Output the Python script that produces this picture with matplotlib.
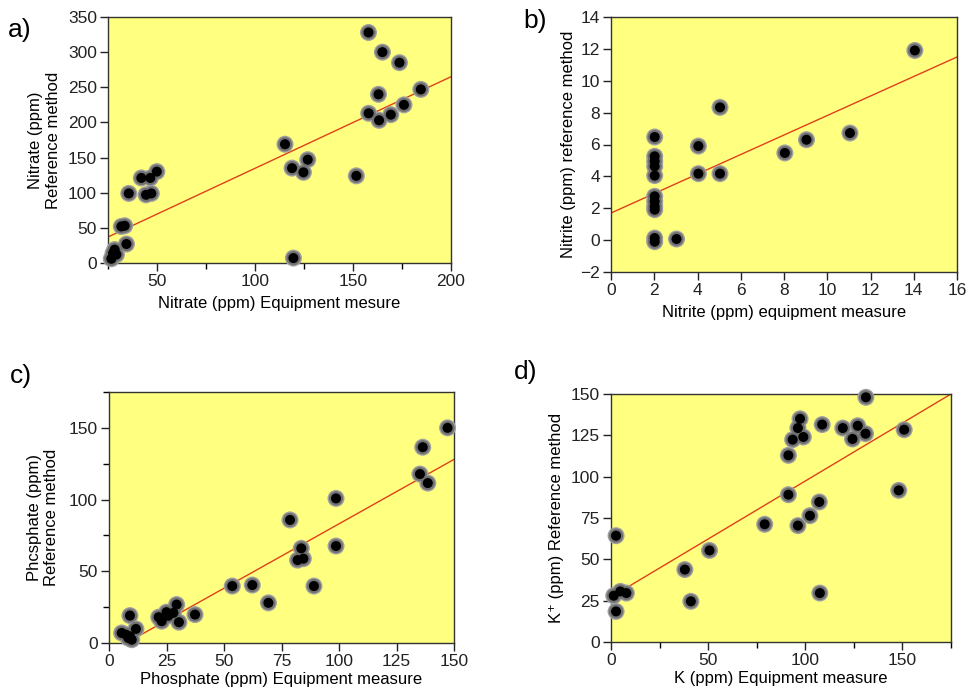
import matplotlib
matplotlib.use("Agg")
import matplotlib.pyplot as plt
import numpy as np
from matplotlib.ticker import MultipleLocator

plt.rcParams['font.family'] = ['Liberation Sans', 'DejaVu Sans']

# ---- Data: a) Nitrate ----
nitrate_x = [157.9, 165.0, 173.7, 184.6, 163.0, 158.0, 163.3, 169.3, 176.0,
             115.3, 118.9, 126.9, 124.7, 151.7, 119.6,
             42.0, 46.6, 49.9, 44.4, 47.1, 35.6, 31.8, 33.5, 34.4,
             28.4, 27.6, 26.7, 29.3]
nitrate_y = [328, 300, 285, 247, 240, 213, 203, 211, 225,
             169, 135, 147, 129, 124, 7,
             121, 121, 130, 97, 99, 99, 52, 53, 27,
             19, 14, 6, 12]
nitrate_line_x = [25, 200]
nitrate_line_y = [37, 265]

# ---- Data: b) Nitrite ----
nitrite_x = [14.05, 5.04, 2.02, 2.02, 2.02, 2.02, 2.02, 2.02, 2.02, 2.02, 2.02,
             2.02, 2.02, 3.03, 4.04, 4.04, 5.04, 8.04, 9.04, 11.05]
nitrite_y = [11.9, 8.33, 6.47, 5.26, 4.95, 4.63, 4.05, 2.75, 2.43, 2.12, 1.91,
             0.13, -0.1, 0.07, 5.9, 4.17, 4.17, 5.47, 6.3, 6.72]
nitrite_line_x = [0, 16]
nitrite_line_y = [1.70, 11.49]

# ---- Data: c) Phosphate ----
phosphate_x = [147.2, 136.4, 135.2, 138.6, 98.7, 98.7, 78.7, 83.6, 82.0, 84.5,
               89.1, 53.6, 62.3, 69.3, 37.4, 29.4, 30.4, 28.0, 25.0, 25.8,
               21.6, 22.9, 9.1, 5.5, 7.4, 9.1, 11.7, 9.9, 8.4]
phosphate_y = [150, 136.5, 117.8, 111.5, 100.8, 67.6, 85.8, 66, 57.8, 58.8,
               39.7, 39.7, 40.4, 28, 19.8, 26.8, 14.5, 21, 21.5, 19,
               18, 15.2, 19.1, 7, 5.8, 4.7, 9.8, 2.3, 3.5]
phosphate_line_x = [7.5, 150]
phosphate_line_y = [0, 128]

# ---- Data: d) Potassium ----
k_x = [131.2, 97.3, 96.2, 93.5, 99.0, 91.3, 108.7, 119.3, 127.0, 124.3, 131.0,
       150.9, 148.1, 91.3, 107.2, 102.4, 96.2, 79.1, 50.7, 38.0, 41.1, 107.5,
       2.6, 2.6, 1.4, 4.8, 7.9]
k_y = [148, 135, 129.4, 122.4, 124, 112.9, 131.5, 129.4, 130.8, 122.8, 126,
       128.4, 91.7, 89.1, 84.7, 76.4, 70.4, 71.2, 55.4, 43.8, 24.6, 29.6,
       64.3, 18.5, 28, 30.6, 29.6]
k_line_x = [0, 175]
k_line_y = [27.2, 150]

W, H = 968, 700
fig = plt.figure(figsize=(W / 100, H / 100), dpi=100)

def ax_px(left, right, top, bottom):
    return fig.add_axes([left / W, 1 - bottom / H, (right - left) / W, (bottom - top) / H])

BG = '#FFFF80'
LINE = '#E0401A'

def style(ax):
    ax.set_facecolor(BG)
    for s in ax.spines.values():
        s.set_color('#333333')
        s.set_linewidth(1.0)
    ax.tick_params(direction='out', length=6, width=1, labelsize=12.5, colors='#222222', pad=2)
    ax.tick_params(which='minor', direction='out', length=4, width=1)

def pts(ax, x, y):
    ax.scatter(x, y, s=150, color='#a0a0a0', edgecolors='none', zorder=3, clip_on=False)
    ax.scatter(x, y, s=105, color='#707070', edgecolors='none', zorder=3, clip_on=False)
    ax.scatter(x, y, s=52, color='black', edgecolors='none', zorder=4, clip_on=False)

lab_fs = 12

# a)
ax = ax_px(108, 451, 17, 263)
style(ax)
ax.plot(nitrate_line_x, nitrate_line_y, color=LINE, lw=1, zorder=2)
pts(ax, nitrate_x, nitrate_y)
ax.set_xlim(25, 200)
ax.set_ylim(0, 350)
ax.set_xticks([50, 100, 150, 200])
ax.xaxis.set_minor_locator(MultipleLocator(25))
ax.set_yticks(np.arange(0, 351, 50))
ax.set_xlabel('Nitrate (ppm) Equipment mesure', fontsize=lab_fs, labelpad=5)
ax.set_ylabel('Nitrate (ppm)\nReference method', fontsize=lab_fs, labelpad=5)
fig.text(8 / W, 1 - 30 / H, 'a)', fontsize=19, va='center', ha='left')

# b)
ax = ax_px(611, 957, 17, 272)
style(ax)
ax.plot(nitrite_line_x, nitrite_line_y, color=LINE, lw=1, zorder=2)
pts(ax, nitrite_x, nitrite_y)
ax.set_xlim(0, 16)
ax.set_ylim(-2, 14)
ax.set_xticks(np.arange(0, 17, 2))
ax.set_yticks(np.arange(-2, 15, 2))
ax.set_xlabel('Nitrite (ppm) equipment measure', fontsize=lab_fs, labelpad=5)
ax.set_ylabel('Nitrite (ppm) reference method', fontsize=lab_fs, labelpad=3)
fig.text(523 / W, 1 - 21 / H, 'b)', fontsize=19, va='center', ha='left')

# c)
ax = ax_px(109, 454, 392, 643)
style(ax)
ax.plot(phosphate_line_x, phosphate_line_y, color=LINE, lw=1, zorder=2)
pts(ax, phosphate_x, phosphate_y)
ax.set_xlim(0, 150)
ax.set_ylim(0, 175)
ax.set_xticks(np.arange(0, 151, 25))
ax.set_yticks([0, 50, 100, 150])
ax.yaxis.set_minor_locator(MultipleLocator(25))
ax.set_xlabel('Phosphate (ppm) Equipment measure', fontsize=lab_fs, labelpad=2)
ax.set_ylabel('Phcsphate (ppm)\nReference method', fontsize=lab_fs, labelpad=7)
fig.text(10 / W, 1 - 376 / H, 'c)', fontsize=19, va='center', ha='left')

# d)
ax = ax_px(611, 951, 394, 642)
style(ax)
ax.plot(k_line_x, k_line_y, color=LINE, lw=1, zorder=2)
pts(ax, k_x, k_y)
ax.set_xlim(0, 175)
ax.set_ylim(0, 150)
ax.set_xticks([0, 50, 100, 150])
ax.xaxis.set_minor_locator(MultipleLocator(25))
ax.set_yticks(np.arange(0, 151, 25))
ax.set_xlabel('K (ppm) Equipment measure', fontsize=lab_fs, labelpad=2)
ax.set_ylabel('K\u207a (ppm) Reference method', fontsize=lab_fs, labelpad=5)
fig.text(514 / W, 1 - 372 / H, 'd)', fontsize=19, va='center', ha='left')

fig.savefig('out.png', dpi=100, facecolor='white')
